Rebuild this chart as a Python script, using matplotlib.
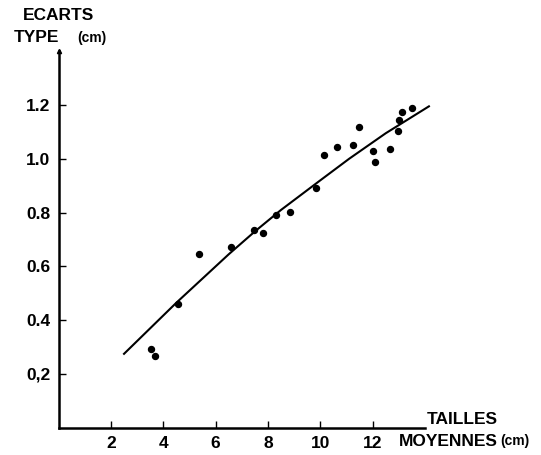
import matplotlib
matplotlib.use("Agg")
import matplotlib.pyplot as plt

# mesures (taille moyenne, ecart type)
tailles = [3.53, 3.67, 4.55, 5.35, 6.57, 7.45, 7.81, 8.32, 8.86, 9.82, 10.14,
           10.64, 11.24, 11.47, 12.01, 12.10, 12.66, 12.98, 12.99, 13.13, 13.49]
ecarts = [0.293, 0.266, 0.46, 0.647, 0.671, 0.734, 0.725, 0.792, 0.802, 0.892, 1.015,
          1.043, 1.051, 1.117, 1.03, 0.989, 1.035, 1.102, 1.143, 1.174, 1.19]

# courbe d'ajustement
courbe_x = [2.5, 3.5, 4.5, 5.5, 6.5, 7.5, 8.5, 10.0, 11.1, 12.5, 14.15]
courbe_y = [0.275, 0.37, 0.465, 0.555, 0.645, 0.73, 0.81, 0.92, 1.0, 1.095, 1.195]

xticks = [2, 4, 6, 8, 10, 12]
yticks = [0.2, 0.4, 0.6, 0.8, 1.0, 1.2]
ytick_labels = ["0,2", "0.4", "0.6", "0.8", "1.0", "1.2"]

W, H = 541, 455
plt.rcParams["font.family"] = ["Liberation Sans", "DejaVu Sans"]
fig = plt.figure(figsize=(W / 100, H / 100), dpi=100)
ax = fig.add_axes([58.6 / W, 27.2 / H, 366.4 / W, 376.6 / H])

ax.plot(courbe_x, courbe_y, color="black", lw=1.5, clip_on=False)
ax.plot(tailles, ecarts, "o", color="black", ms=4.3, clip_on=False)

ax.set_xlim(0, 14)
ax.set_ylim(0, 1.4)
for s in ["top", "right"]:
    ax.spines[s].set_visible(False)
for s in ["left", "bottom"]:
    ax.spines[s].set_linewidth(1.8)

ax.set_xticks(xticks)
ax.set_xticklabels([str(t) for t in xticks])
ax.set_yticks(yticks)
ax.set_yticklabels(ytick_labels)
ax.tick_params(direction="in", length=5, width=1, labelsize=12.5, pad=6)
for lab in ax.get_xticklabels() + ax.get_yticklabels():
    lab.set_fontweight("bold")

# petite fleche en haut de l'axe
ax.plot([0], [1.4], marker="^", color="black", ms=3, clip_on=False)

def txt(x, y, s, size=12, **kw):
    fig.text(x / W, 1 - y / H, s, fontsize=size, fontweight="bold",
             va="center", ha="left", **kw)

txt(23, 16, "ECARTS", size=12.5)
txt(14, 38, "TYPE", size=12.5)
txt(77, 38, "(cm)", size=10)
txt(427, 419, "TAILLES", size=12.5)
txt(399, 441, "MOYENNES", size=12.5)
txt(500, 441, "(cm)", size=10)

fig.savefig("out.png", dpi=100)
